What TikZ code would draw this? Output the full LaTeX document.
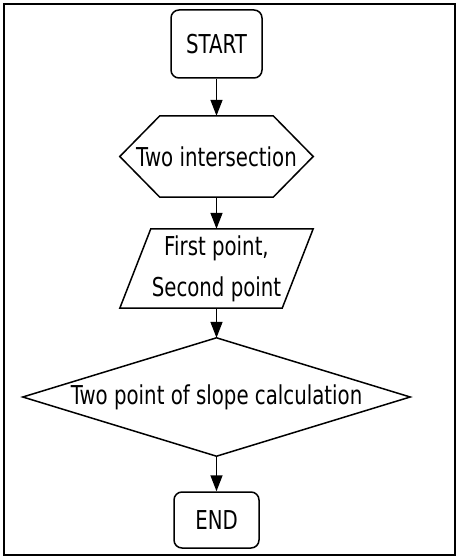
\documentclass[tikz,border=0pt]{standalone}
\usepackage{fontspec}
\setmainfont{DejaVu Sans}[FakeStretch=0.76]
\usetikzlibrary{arrows.meta,calc}
\begin{document}
\begin{tikzpicture}[x=1pt,y=-1pt,
  every node/.style={font=\fontsize{26}{41}\selectfont, inner sep=0pt, align=center},
  shapeline/.style={line width=1.5pt, line join=miter},
  flow/.style={line width=1.5pt, -{Triangle[width=12pt,length=16pt]}}]
\useasboundingbox (0,0) rectangle (460,559);
\draw[line width=2pt] (4,4) rectangle (455,555);
% START
\node[draw, shapeline, rounded corners=8pt, minimum width=91pt, minimum height=68pt] (start) at (216.5,44) {START};
% hexagon
\node[minimum width=193pt, minimum height=81pt] (hex) at (216.5,156.5) {Two intersection};
\draw[shapeline] (hex.west) -- ($(hex.north west)+(40,0)$) -- ($(hex.north east)+(-40,0)$) -- (hex.east)
  -- ($(hex.south east)+(-40,0)$) -- ($(hex.south west)+(40,0)$) -- cycle;
% parallelogram
\node[minimum width=193pt, minimum height=79pt] (par) at (216.5,268.5) {First point,\\Second point};
\draw[shapeline] (par.south west) -- ($(par.north west)+(31,0)$) -- (par.north east)
  -- ($(par.south east)+(-31,0)$) -- cycle;
% diamond
\node[minimum width=387pt, minimum height=118pt] (dia) at (216.5,397) {Two point of slope calculation};
\draw[shapeline] (dia.north) -- (dia.east) -- (dia.south) -- (dia.west) -- cycle;
% END
\node[draw, shapeline, rounded corners=8pt, minimum width=85pt, minimum height=56pt] (end) at (216.5,520) {END};
% connectors
\draw[flow] (start.south) -- (hex.north);
\draw[flow] (hex.south) -- (par.north);
\draw[flow] (par.south) -- (dia.north);
\draw[flow] (dia.south) -- (end.north);
\end{tikzpicture}
\end{document}
